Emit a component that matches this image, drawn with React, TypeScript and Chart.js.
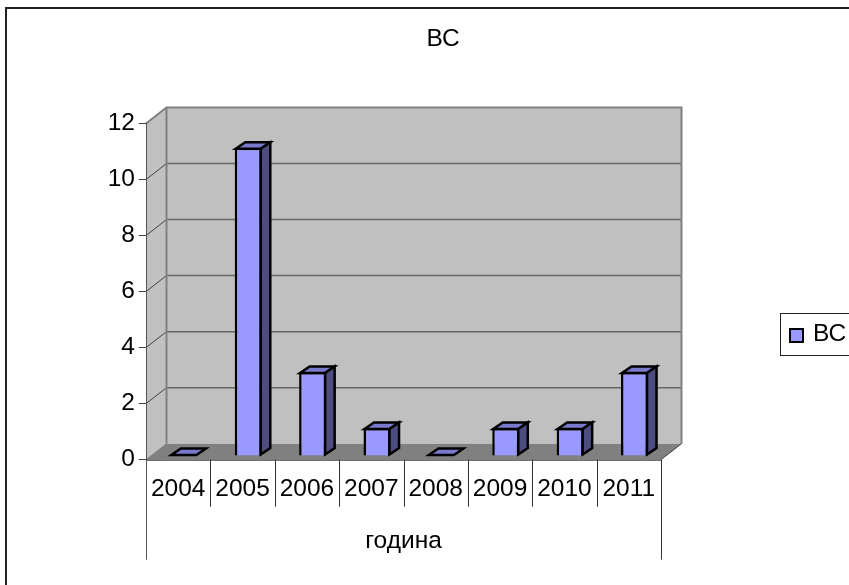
import React, { useEffect, useRef } from "react";
import { Chart, registerables } from "chart.js";

Chart.register(...registerables);

const categories = ["2004", "2005", "2006", "2007", "2008", "2009", "2010", "2011"];
const seriesValues = [0, 11, 3, 1, 0, 1, 1, 3];
const seriesName = "ВС";
const chartTitle = "ВС";
const axisTitle = "година";

const FONT = "'Liberation Sans', Arial, sans-serif";
const FONT_SIZE = 24.5;
const DX = 20.5;
const DY = -16;
const BAR_SHIFT_X = 5.7;
const BAR_SHIFT_Y = -3.7;
const SIDE_X = 9.5;
const SIDE_Y = -6.5;

function poly(ctx: CanvasRenderingContext2D, pts: number[][], fill: string | null, stroke: string | null, lw = 1) {
  ctx.beginPath();
  pts.forEach((p, i) => (i ? ctx.lineTo(p[0], p[1]) : ctx.moveTo(p[0], p[1])));
  ctx.closePath();
  if (fill) {
    ctx.fillStyle = fill;
    ctx.fill();
  }
  if (stroke) {
    ctx.strokeStyle = stroke;
    ctx.lineWidth = lw;
    ctx.lineJoin = "miter";
    ctx.stroke();
  }
}

function seg(ctx: CanvasRenderingContext2D, x1: number, y1: number, x2: number, y2: number, color: string, lw = 1) {
  ctx.beginPath();
  ctx.moveTo(x1, y1);
  ctx.lineTo(x2, y2);
  ctx.strokeStyle = color;
  ctx.lineWidth = lw;
  ctx.stroke();
}

const box3d = {
  id: "box3d",
  beforeDraw(chart: any) {
    const { ctx, chartArea: a, scales } = chart;
    const { left: l, right: r, top: t, bottom: b } = a;
    ctx.save();
    // outer frame
    ctx.strokeStyle = "#222";
    ctx.lineWidth = 2;
    ctx.strokeRect(1, 1, chart.width + 20, chart.height + 20);
    // walls
    poly(ctx, [[l, t], [l + DX, t + DY], [l + DX, b + DY], [l, b]], "#C0C0C0", null);
    poly(ctx, [[l + DX, t + DY], [r + DX, t + DY], [r + DX, b + DY], [l + DX, b + DY]], "#C0C0C0", null);
    poly(ctx, [[l, b], [r, b], [r + DX, b + DY], [l + DX, b + DY]], "#808080", null);
    // gridlines
    const y = scales.y;
    y.ticks.forEach((tk: any) => {
      const py = y.getPixelForValue(tk.value);
      if (tk.value > 0 && tk.value < 12) {
        seg(ctx, l + DX, py + DY, r + DX, py + DY, "#666", 1.5);
        seg(ctx, l, py, l + DX, py + DY, "#444", 1);
      }
    });
    // wall outlines
    ctx.beginPath();
    ctx.moveTo(l, t);
    ctx.lineTo(l + DX, t + DY);
    ctx.lineTo(r + DX, t + DY);
    ctx.lineTo(r + DX, b + DY);
    ctx.strokeStyle = "#808080";
    ctx.lineWidth = 2;
    ctx.stroke();
    seg(ctx, l + DX, t + DY, l + DX, b + DY, "#808080", 2);
    seg(ctx, r, b, r + DX, b + DY, "#444", 1);
    seg(ctx, l, b, l + DX, b + DY, "#808080", 1);
    ctx.restore();
  },
  beforeDatasetsDraw(chart: any) {
    chart.ctx.save();
    chart.ctx.translate(BAR_SHIFT_X, BAR_SHIFT_Y);
  },
  afterDatasetsDraw(chart: any) {
    const { ctx, scales } = chart;
    const meta = chart.getDatasetMeta(0);
    meta.data.forEach((bar: any) => {
      const p = bar.getProps(["x", "y", "base", "width"], true);
      const x0 = p.x - p.width / 2 + 1;
      const x1 = p.x + p.width / 2 - 1;
      const top = p.y + 1 > p.base - 1 ? p.base - 1 : p.y + 1;
      const base = p.base - 1;
      poly(ctx, [[x0, top], [x1, top], [x1 + SIDE_X, top + SIDE_Y], [x0 + SIDE_X, top + SIDE_Y]], "#7A7ACC", "#000", 2.5);
      if (base > top) {
        poly(ctx, [[x1, top], [x1 + SIDE_X, top + SIDE_Y], [x1 + SIDE_X, base + SIDE_Y], [x1, base]], "#4D4D80", "#000", 2.5);
      }
    });
    ctx.restore();

    // axis line and multi-level category dividers
    ctx.save();
    const sx = scales.x;
    const b = chart.chartArea.bottom;
    const l = chart.chartArea.left;
    const r = chart.chartArea.right;
    const step = (r - l) / categories.length;
    seg(ctx, l, b + 0.5, r, b + 0.5, "#333", 1);
    categories.forEach((_, i) => {
      if (i > 0) {
        const px = Math.round(sx.getPixelForValue(i) - step / 2) + 0.5;
        seg(ctx, px, b, px, b + 47, "#333", 1);
      }
    });
    seg(ctx, l + 0.5, b, l + 0.5, b + 100, "#555", 1);
    seg(ctx, r + 0.5, b, r + 0.5, b + 100, "#333", 1);

    // legend
    ctx.strokeStyle = "#222";
    ctx.lineWidth = 1;
    ctx.strokeRect(775.5, 306.5, 120, 42);
    ctx.fillStyle = "#9999FF";
    ctx.fillRect(785, 322, 13, 13);
    ctx.strokeStyle = "#000";
    ctx.lineWidth = 2;
    ctx.strokeRect(785, 322, 13, 13);
    ctx.fillStyle = "#000";
    ctx.font = `${FONT_SIZE}px ${FONT}`;
    ctx.textAlign = "left";
    ctx.textBaseline = "middle";
    ctx.fillText(chart.data.datasets[0].label, 808, 327);
    ctx.restore();
  },
};

export default function App() {
  const ref = useRef<HTMLCanvasElement>(null);
  useEffect(() => {
    document.body.style.margin = "0";
    document.body.style.overflow = "hidden";
    document.body.style.background = "#fff";
    const chart = new Chart(ref.current as HTMLCanvasElement, {
      type: "bar",
      data: {
        labels: categories,
        datasets: [
          {
            label: seriesName,
            data: seriesValues,
            backgroundColor: "#9999FF",
            borderColor: "#000",
            borderWidth: 2.5,
            barPercentage: 0.6,
            categoryPercentage: 0.7,
          },
        ],
      },
      options: {
        responsive: false,
        animation: false,
        plugins: {
          legend: { display: false },
          tooltip: { enabled: false },
          title: {
            display: true,
            text: chartTitle,
            color: "#000",
            font: { family: FONT, size: FONT_SIZE, weight: "normal" },
            padding: { top: 17.3, bottom: 69.8 },
          },
        },
        scales: {
          x: {
            afterFit(s: any) {
              s.height = 147.3;
            },
            grid: { display: false },
            border: { display: false },
            ticks: {
              color: "#000",
              font: { family: FONT, size: FONT_SIZE },
              padding: 7,
              maxRotation: 0,
              autoSkip: false,
            },
            title: {
              display: true,
              text: axisTitle,
              color: "#000",
              font: { family: FONT, size: FONT_SIZE },
              padding: { top: 0, bottom: 51.3 },
            },
          },
          y: {
            min: 0,
            max: 12,
            afterFit(s: any) {
              s.width = 141;
            },
            grid: { drawOnChartArea: false, drawTicks: true, tickLength: 7, tickColor: "#444", lineWidth: 1 },
            border: { display: true, color: "#555", width: 1 },
            ticks: {
              stepSize: 2,
              color: "#000",
              font: { family: FONT, size: FONT_SIZE },
              padding: 4,
            },
          },
          spacer: {
            position: "right",
            afterFit(s: any) {
              s.width = 220;
            },
            grid: { display: false },
            border: { display: false },
            ticks: { display: false },
          },
        },
      },
      plugins: [box3d],
    } as any);
    return () => chart.destroy();
  }, []);
  return (
    <canvas
      ref={ref}
      width={876}
      height={600}
      style={{ position: "fixed", left: 5, top: 7, display: "block" }}
    />
  );
}
